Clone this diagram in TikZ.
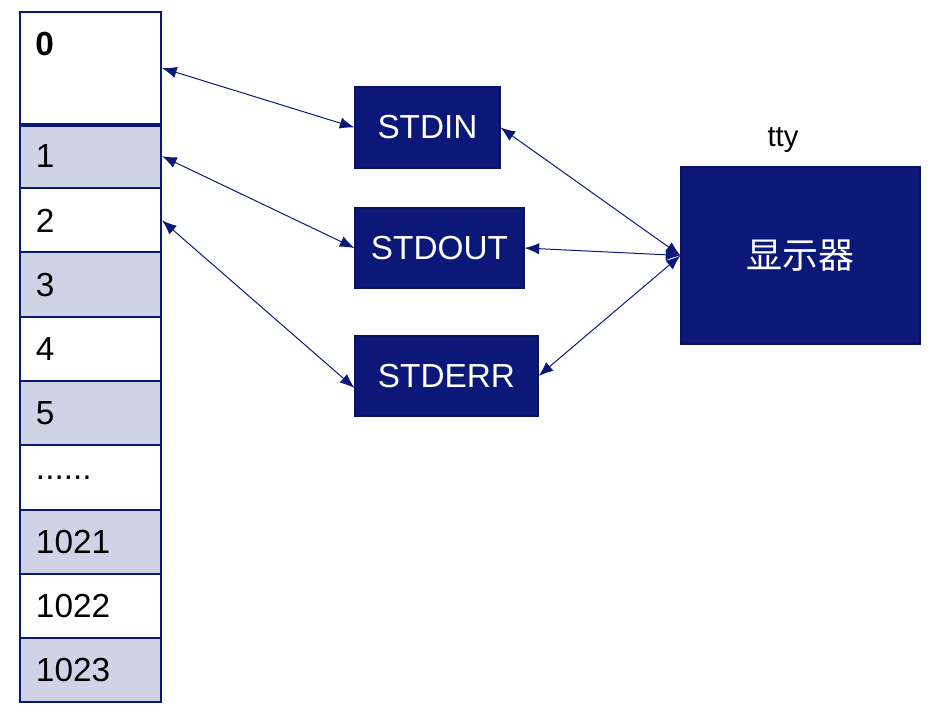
\documentclass[tikz,border=0pt]{standalone}
\usepackage{fontspec}
\setmainfont{Liberation Sans}
\newfontfamily\cjk{Noto Sans CJK SC}
\usepackage{xcolor}
\usepackage{tikz}
\usetikzlibrary{arrows.meta,positioning,calc}
\definecolor{fdnavy}{HTML}{0C1878}
\definecolor{fdshade}{HTML}{CFD3E6}

\begin{document}
\begin{tikzpicture}[x=0.75pt, y=-0.75pt,
  fdcell/.style={draw=fdnavy, line width=1.5pt, minimum width=105.75pt, minimum height=48.2pt,
    text width=81.75pt, inner xsep=12pt, align=left, font=\fontsize{25}{30}\selectfont},
  fdbox/.style={fill=fdnavy, draw=fdnavy!80!black, line width=0.8pt, text=white,
    font=\fontsize{25}{30}\selectfont},
  fdlink/.style={draw=fdnavy, line width=0.75pt,
    {Latex[length=11pt,width=8.5pt]}-{Latex[length=11pt,width=8.5pt]}}]
\useasboundingbox (0,0) rectangle (936,722);
% file descriptor table
\node[fdcell, minimum height=84pt, fill=white,
  label={[anchor=north west, inner sep=0pt, xshift=12pt, yshift=-15.5pt,
  font=\bfseries\fontsize{25}{30}\selectfont]north west:0}] (c0) at (90.5,68) {};
\foreach \lbl/\fillc [count=\k] in {1/fdshade, 2/white, 3/fdshade, 4/white, 5/fdshade,
    {......}/white, 1021/fdshade, 1022/white, 1023/fdshade}
  \node[fdcell, fill=\fillc] (c\k) at (90.5,{124+(\k-0.5)*64.25}) {\lbl};
\draw[fdnavy, line width=3pt] (c0.south west) -- (c0.south east);
% streams
\node[fdbox, minimum width=108.75pt, minimum height=60.75pt] (stdin) at (427.5,127.5) {STDIN};
\node[fdbox, minimum width=126.75pt, minimum height=60pt] (stdout) at (439.5,248) {STDOUT};
\node[fdbox, minimum width=137.25pt, minimum height=60pt] (stderr) at (446.5,376) {STDERR};
% display
\node[fdbox, minimum width=179.25pt, minimum height=132.75pt,
  font=\cjk\fontsize{27}{32}\selectfont] (disp) at (800.5,255.5) {显示器};
\node[font=\fontsize{22}{26}\selectfont, inner sep=0pt] (tty) at (783,140) {tty};
% links
\draw[fdlink] (c0.east) -- (stdin.west);
\draw[fdlink] (c1.east) -- (stdout.west);
\draw[fdlink] (c2.east) -- ([yshift=-9pt]stderr.west);
\draw[fdlink] (stdin.east) -- (disp.west);
\draw[fdlink] (stdout.east) -- (disp.west);
\draw[fdlink] (stderr.east) -- (disp.west);
\end{tikzpicture}
\end{document}
